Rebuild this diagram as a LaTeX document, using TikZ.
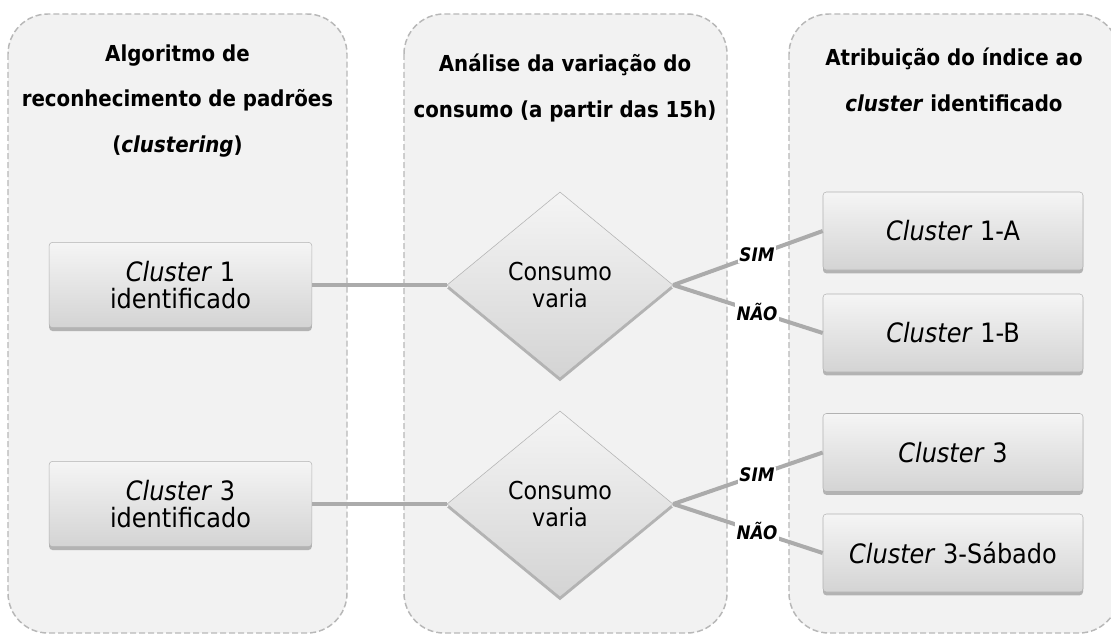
\documentclass[tikz,border=0pt]{standalone}
\usepackage{fontspec}
\setmainfont{DejaVu Sans Condensed}[
  BoldFont={DejaVu Sans Condensed Bold},
  ItalicFont={DejaVu Sans Condensed Oblique},
  BoldItalicFont={DejaVu Sans Condensed Bold Oblique}]
\usepackage{tikz}
\usetikzlibrary{shapes.geometric, shadows}

\begin{document}
\begin{tikzpicture}[x=0.75pt, y=-0.75pt,
    panel/.style={draw=black!28, fill=black!5, line width=1.1pt, dash pattern=on 4.5pt off 2.25pt, rounded corners=30pt},
    title/.style={align=center, font=\fontsize{16.5}{34}\selectfont\bfseries},
    shadedbox/.style={draw=black!30, top color=black!4, bottom color=black!17, inner sep=0pt, align=center,
        drop shadow={opacity=0.55, shadow xshift=0pt, shadow yshift=-2.5pt}},
    leftbox/.style={shadedbox, rectangle, rounded corners=2.5pt, minimum width=197pt, minimum height=64pt, font=\fontsize{20}{20}\selectfont},
    rightbox/.style={shadedbox, rectangle, rounded corners=2.5pt, minimum width=195pt, minimum height=58.5pt, font=\fontsize{20}{20}\selectfont},
    decision/.style={shadedbox, diamond, aspect=1.2, minimum width=169.5pt, minimum height=139.5pt, font=\fontsize{18.5}{20}\selectfont},
    link/.style={draw=black!33, line width=3pt},
    answer/.style={fill=white, inner sep=1pt, pos=0.56, font=\fontsize{14}{14}\selectfont\bfseries\itshape}]

    \clip (0,0) rectangle (1111,635);
    \fill[white] (0,0) rectangle (1111,635);

    \draw[panel] (8,14) rectangle (347,633);
    \draw[panel] (404,14) rectangle (727,633);
    \draw[panel] (789,14) rectangle (1119,633);

    \node[title] (tleft) at (177.5,101) {Algoritmo de\\reconhecimento de padrões\\(\textit{clustering})};
    \node[title] (tmid) at (565,88) {Análise da variação do\\consumo (a partir das 15h)};
    \node[title] (tright) at (954,80) {Atribuição do índice ao\\\textit{cluster} identificado};

    \node[leftbox] (c1) at (180.5,285) {\textit{Cluster} 1\\identificado};
    \node[leftbox] (c3) at (180.5,504) {\textit{Cluster} 3\\identificado};

    \node[decision] (d1) at (560,285) {Consumo\\varia};
    \node[decision] (d3) at (560,504) {Consumo\\varia};

    \node[rightbox] (c1a) at (953,231) {\textit{Cluster} 1-A};
    \node[rightbox] (c1b) at (953,333) {\textit{Cluster} 1-B};
    \node[rightbox] (c3s) at (953,452.5) {\textit{Cluster} 3};
    \node[rightbox] (c3sab) at (953,553) {\textit{Cluster} 3-Sábado};

    \draw[link] (c1.east) -- (d1.west);
    \draw[link] (c3.east) -- (d3.west);
    \draw[link] (d1.east) -- node[answer]{SIM} (c1a.west);
    \draw[link] (d1.east) -- node[answer]{NÃO} (c1b.west);
    \draw[link] (d3.east) -- node[answer]{SIM} (c3s.west);
    \draw[link] (d3.east) -- node[answer]{NÃO} (c3sab.west);

\end{tikzpicture}
\end{document}
